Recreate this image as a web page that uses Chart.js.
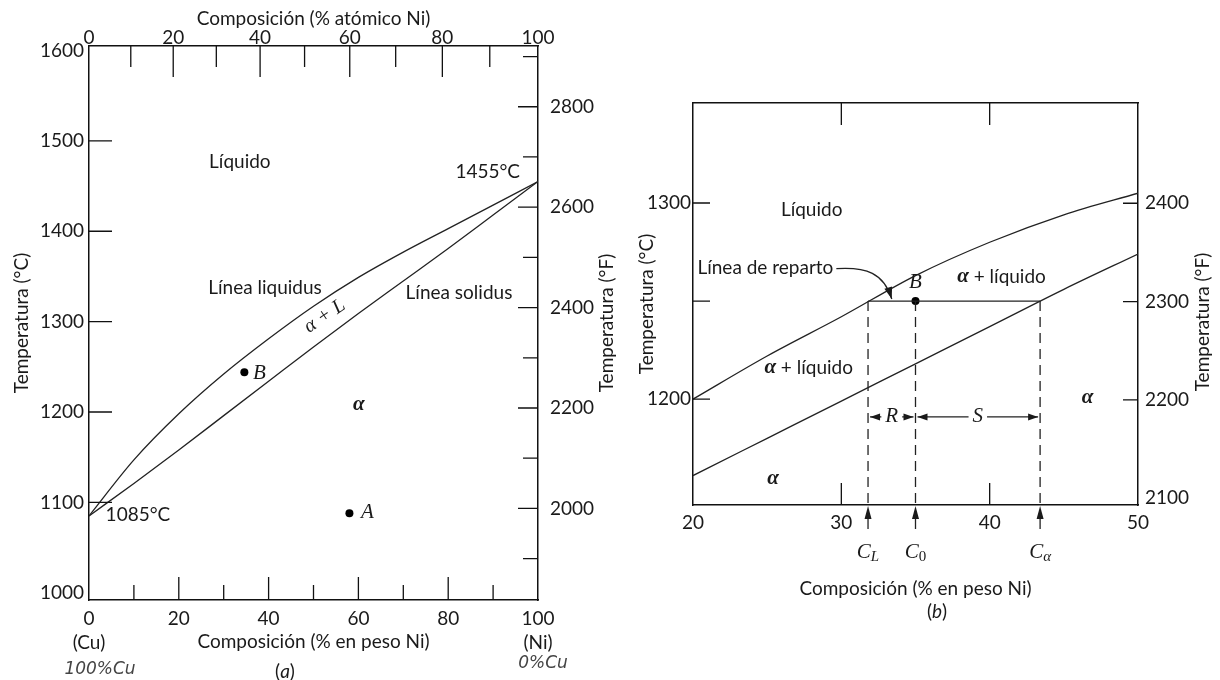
<!DOCTYPE html>
<html>
<head>
<meta charset="utf-8">
<script src="https://cdn.jsdelivr.net/npm/chart.js@4.4.1/dist/chart.umd.min.js"></script>
<style>
html,body{margin:0;padding:0;background:#fff;}
#wrap{position:relative;width:1220px;height:680px;overflow:hidden;}
#chartA{position:absolute;left:0;top:0;}
#chartB{position:absolute;left:620px;top:0;}
</style>
</head>
<body>
<div id="wrap">
<canvas id="chartA" width="620" height="680"></canvas>
<canvas id="chartB" width="600" height="680"></canvas>
</div>
<script>

/* ---------- DATA (a) : full Cu-Ni diagram ---------- */

const wtNiA = [0,10,20,30,40,50,60,70,80,90,100]
const liquidusA = [1085,1147,1198,1242,1281,1317,1349,1377,1403,1429,1455]
const solidusA = [1085,1121,1158,1196,1234,1272,1309,1345,1381,1418,1455]
const pointB_A = [34.6,1244]
const pointA_A = [58,1088]

const tempTicksA = [1000,1100,1200,1300,1400,1500,1600]
const wtTicksA = [0,10,20,30,40,50,60,70,80,90,100]
const atTicksA = [0,10,20,30,40,50,60,70,80,90,100]
const fTicksA = [1900,2000,2100,2200,2300,2400,2500,2600,2700,2800,2900]

/* ---------- DATA (b) : detail around B ---------- */

const wtNiB = [20,25,30,35,40,45,50]
const liquidusB = [1200,1222,1242,1263,1280,1294,1305]
const solidusB = [1161,1180,1199,1218,1237,1256,1274]
const C_L = 31.8
const C_0 = 35
const C_ALPHA = 43.4
const TIE_T = 1250

const wtTicksB = [20,30,40,50]
const tempTicksB = [1200,1250,1300]
const fTicksB = [2100,2200,2300,2400]

/* ---------- helpers ---------- */

const SANS = "Lato, 'Open Sans', sans-serif"
const SERIF = "'Liberation Serif', 'DejaVu Serif', serif"
const INK = "#1a1a1a"
const tickFont = {family:SANS, size:19}

Chart.defaults.color = INK
Chart.defaults.font.family = SANS

// weight % Ni for a given atomic % Ni (Ni 58.69, Cu 63.55)
function atToWt(a){
return a*58.69/(a*58.69+(100-a)*63.55)*100
}

function pts(xs,ys){
return xs.map((x,i)=>({x:x,y:ys[i]}))
}

function curve(data){
return {data:data, showLine:true, pointRadius:0, borderColor:"#222", borderWidth:1.3,
cubicInterpolationMode:"monotone"}
}

function straight(data,dash){
return {data:data, showLine:true, pointRadius:0, borderColor:"#222", borderWidth:1.3,
borderDash:dash||[]}
}

function dot(p){
return {data:[{x:p[0],y:p[1]}], pointRadius:4, pointBackgroundColor:"#000", pointBorderWidth:0, showLine:false}
}

function setTicks(values){
return s=>{ s.ticks = values.map(v=>({value:v})) }
}

const noGrid = {display:false, drawTicks:false}
const frame = {color:"#111", width:1.5}

function innerTicks(chart,axis,values,lenOf){
const s = chart.scales[axis], a = chart.chartArea, ctx = chart.ctx
ctx.save()
ctx.strokeStyle="#111"
ctx.lineWidth=1.3
ctx.beginPath()
values.forEach(v=>{
const p = s.getPixelForValue(v), L = lenOf(v)
if(s.position==="bottom"){ctx.moveTo(p,a.bottom);ctx.lineTo(p,a.bottom-L)}
else if(s.position==="top"){ctx.moveTo(p,a.top);ctx.lineTo(p,a.top+L)}
else if(s.position==="left"){ctx.moveTo(a.left,p);ctx.lineTo(a.left+L,p)}
else{ctx.moveTo(a.right,p);ctx.lineTo(a.right-L,p)}
})
ctx.stroke()
ctx.restore()
}

// draw text made of pieces with different fonts
function rich(ctx,parts,x,y,align){
let w = 0
parts.forEach(p=>{ctx.font=p[1];w+=ctx.measureText(p[0]).width})
let cx = align==="left" ? x : align==="right" ? x-w : x-w/2
ctx.textAlign="left"
ctx.textBaseline="middle"
parts.forEach(p=>{
ctx.font=p[1]
ctx.fillText(p[0],cx,y+(p[2]||0))
cx+=ctx.measureText(p[0]).width
})
return cx
}

function vTitle(ctx,str,x,y){
ctx.save()
ctx.translate(x,y)
ctx.rotate(-Math.PI/2)
ctx.font="19px "+SANS
ctx.textAlign="center"
ctx.textBaseline="middle"
ctx.fillText(str,0,0)
ctx.restore()
}

function arrowHead(ctx,x,y,ang,len,half){
ctx.beginPath()
ctx.moveTo(x,y)
ctx.lineTo(x-len*Math.cos(ang)+half*Math.sin(ang), y-len*Math.sin(ang)-half*Math.cos(ang))
ctx.lineTo(x-len*Math.cos(ang)-half*Math.sin(ang), y-len*Math.sin(ang)+half*Math.cos(ang))
ctx.closePath()
ctx.fill()
}

const SANS19 = "19px "+SANS
const ITAL = "italic 21px "+SERIF
const ALPHA = "italic bold 21px "+SERIF

/* ---------- CHART (a) ---------- */

const decorA = {
id:"decorA",
afterDraw(chart){
const ctx = chart.ctx, a = chart.chartArea
const X = v=>chart.scales.x.getPixelForValue(v)
const Y = v=>chart.scales.y.getPixelForValue(v)

innerTicks(chart,"y",tempTicksA.slice(1,-1),()=>23)
innerTicks(chart,"x",wtTicksA.slice(1,-1),v=>v%20===0?23:15)
// top ticks, lengths by atomic value
innerTicks(chart,"x2",atTicksA.slice(1,-1).filter(v=>v%20===0).map(atToWt),()=>31)
innerTicks(chart,"x2",atTicksA.slice(1,-1).filter(v=>v%20!==0).map(atToWt),()=>21)
innerTicks(chart,"y2",fTicksA,v=>v%200===0?20:15)

ctx.save()
ctx.fillStyle=INK
rich(ctx,[["Líquido",SANS19]],X(33.6),Y(1477),"center")
rich(ctx,[["1455°C",SANS19]],X(96),Y(1466),"right")
rich(ctx,[["Línea liquidus",SANS19]],X(39.2),Y(1337),"center")
rich(ctx,[["Línea solidus",SANS19]],X(82.4),Y(1332),"center")
rich(ctx,[["B",ITAL]],X(36.5),Y(1243),"left")
rich(ctx,[["α",ALPHA]],X(60.1),Y(1208),"center")
rich(ctx,[["1085°C",SANS19]],X(10.9),Y(1086),"center")
rich(ctx,[["A",ITAL]],X(60.6),Y(1089),"left")

ctx.save()
ctx.translate(X(52.5),Y(1306))
ctx.rotate(-34*Math.PI/180)
rich(ctx,[["α + L","italic 20px "+SERIF]],0,0,"center")
ctx.restore()

vTitle(ctx,"Temperatura (°F)",a.right+69,(a.top+a.bottom)/2)
rich(ctx,[["(",SANS19],["a","italic 19px "+SANS],[")",SANS19]],285,672,"center")

ctx.fillStyle="#444"
rich(ctx,[["100%Cu","italic 300 17px 'DejaVu Sans', sans-serif"]],100,670,"center")
rich(ctx,[["0%Cu","italic 300 17px 'DejaVu Sans', sans-serif"]],543,664,"center")
ctx.restore()
}
}

new Chart(document.getElementById("chartA"),{
type:"scatter",
data:{
datasets:[
curve(pts(wtNiA,liquidusA)),
curve(pts(wtNiA,solidusA)),
dot(pointB_A),
dot(pointA_A)
]
},
options:{
responsive:false,
animation:false,
events:[],
layout:{padding:0},
plugins:{legend:{display:false},tooltip:{enabled:false}},
scales:{
x:{
type:"linear",position:"bottom",min:0,max:100,
grid:noGrid,border:frame,
afterBuildTicks:setTicks(wtTicksA.filter(v=>v%20===0)),
afterFit:s=>{s.height=80},
ticks:{autoSkip:false,maxRotation:0,padding:7,font:{family:SANS,size:19,lineHeight:1.25},
callback:v=>v===0?["0","(Cu)"]:v===100?["100","(Ni)"]:String(v)},
title:{display:true,text:"Composición (% en peso Ni)",font:tickFont,padding:{top:0,bottom:27}}
},
x2:{
type:"linear",position:"top",min:0,max:100,
grid:noGrid,border:frame,
afterBuildTicks:setTicks(atTicksA.filter(v=>v%20===0).map(atToWt)),
afterFit:s=>{s.height=46},
ticks:{autoSkip:false,maxRotation:0,padding:-3,font:tickFont,
callback:(v,i)=>String(atTicksA.filter(t=>t%20===0)[i])},
title:{display:true,text:"Composición (% atómico Ni)",font:tickFont,padding:{top:7,bottom:0}}
},
y:{
type:"linear",position:"left",min:992,max:1605,
grid:noGrid,border:frame,
afterBuildTicks:setTicks(tempTicksA),
afterFit:s=>{s.width=89},
ticks:{autoSkip:false,padding:5,font:tickFont,callback:v=>String(v)},
title:{display:true,text:"Temperatura (°C)",font:tickFont,padding:{top:10,bottom:0}}
},
y2:{
type:"linear",position:"right",min:992*1.8+32,max:1605*1.8+32,
grid:noGrid,border:frame,
afterBuildTicks:setTicks(fTicksA),
afterFit:s=>{s.width=82},
ticks:{autoSkip:false,padding:12,font:tickFont,callback:v=>v%200===0?String(v):""}
}
}
},
plugins:[decorA]
})

/* ---------- CHART (b) ---------- */

const decorB = {
id:"decorB",
afterDraw(chart){
const ctx = chart.ctx, a = chart.chartArea
const X = v=>chart.scales.x.getPixelForValue(v)
const Y = v=>chart.scales.y.getPixelForValue(v)

innerTicks(chart,"y",tempTicksB,()=>17)
innerTicks(chart,"y2",fTicksB.slice(1),()=>15)
innerTicks(chart,"x",wtTicksB.slice(1,-1),()=>22)
innerTicks(chart,"x2",wtTicksB.slice(1,-1),()=>22)

ctx.save()
ctx.fillStyle=INK
ctx.strokeStyle="#222"
ctx.lineWidth=1.3

rich(ctx,[["Líquido",SANS19]],X(28),Y(1296.4),"center")
const endX = rich(ctx,[["Línea de reparto",SANS19]],X(20.3),Y(1267),"left")
rich(ctx,[["α",ALPHA],[" + líquido",SANS19]],X(40.8),Y(1262.3),"center")
rich(ctx,[["α",ALPHA],[" + líquido",SANS19]],X(27.8),Y(1216),"center")
rich(ctx,[["B",ITAL]],X(C_0),Y(1259.5),"center")
rich(ctx,[["α",ALPHA]],X(46.6),Y(1200.6),"center")
rich(ctx,[["α",ALPHA]],X(25.4),Y(1159.3),"center")

// curved pointer to the tie line
const sx = endX+3, sy = Y(1267)+1
const tx = X(33.4), ty = Y(TIE_T)-2
ctx.beginPath()
ctx.moveTo(sx,sy)
ctx.bezierCurveTo(sx+30,sy-2,tx-8,ty-26,tx,ty)
ctx.stroke()
arrowHead(ctx,tx,ty,Math.atan2(26,8),12,4)

// R and S spans
const ry = Y(1190.9)
function span(x1,x2,label){
const m = (x1+x2)/2
ctx.font=ITAL
const hw = ctx.measureText(label).width/2+4
ctx.beginPath()
ctx.moveTo(x1+2,ry);ctx.lineTo(m-hw,ry)
ctx.moveTo(m+hw,ry);ctx.lineTo(x2-2,ry)
ctx.stroke()
arrowHead(ctx,x1+2,ry,Math.PI,10,3.5)
arrowHead(ctx,x2-2,ry,0,10,3.5)
rich(ctx,[[label,ITAL]],m,ry,"center")
}
span(X(C_L),X(C_0),"R")
span(X(C_0),X(C_ALPHA),"S")

// arrows under the axis
const subs = [[C_L,"L","italic 15px "+SERIF],[C_0,"0","15px "+SERIF],[C_ALPHA,"α","italic 15px "+SERIF]]
subs.forEach(c=>{
const x = X(c[0])
ctx.beginPath()
ctx.moveTo(x,a.bottom+24);ctx.lineTo(x,a.bottom+8)
ctx.stroke()
arrowHead(ctx,x,a.bottom+1,-Math.PI/2,13,3.5)
rich(ctx,[["C",ITAL],[c[1],c[2],5]],x,a.bottom+47,"center")
})

vTitle(ctx,"Temperatura (°F)",a.right+65,322)
rich(ctx,[["(",SANS19],["b","italic 19px "+SANS],[")",SANS19]],317,612,"center")
ctx.restore()
}
}

new Chart(document.getElementById("chartB"),{
type:"scatter",
data:{
datasets:[
curve(pts(wtNiB,liquidusB)),
curve(pts(wtNiB,solidusB)),
straight([{x:C_L,y:TIE_T},{x:C_ALPHA,y:TIE_T}]),
straight([{x:C_L,y:TIE_T},{x:C_L,y:1146}],[10,6]),
straight([{x:C_0,y:TIE_T},{x:C_0,y:1146}],[10,6]),
straight([{x:C_ALPHA,y:TIE_T},{x:C_ALPHA,y:1146}],[10,6]),
dot([C_0,TIE_T])
]
},
options:{
responsive:false,
animation:false,
events:[],
layout:{padding:0},
plugins:{legend:{display:false},tooltip:{enabled:false}},
scales:{
x:{
type:"linear",position:"bottom",min:20,max:50,
grid:noGrid,border:frame,
afterBuildTicks:setTicks(wtTicksB),
afterFit:s=>{s.height=175},
ticks:{autoSkip:false,maxRotation:0,padding:6,font:tickFont,callback:v=>String(v)},
title:{display:true,text:"Composición (% en peso Ni)",font:tickFont,padding:{top:0,bottom:80}}
},
x2:{
type:"linear",position:"top",min:20,max:50,
grid:noGrid,border:frame,
ticks:{display:false},
afterFit:s=>{s.height=103}
},
y:{
type:"linear",position:"left",min:1146,max:1351,
grid:noGrid,border:frame,
afterBuildTicks:setTicks(tempTicksB.filter(v=>v%100===0)),
afterFit:s=>{s.width=73},
ticks:{autoSkip:false,padding:2,font:tickFont,callback:v=>String(v)},
title:{display:true,text:"Temperatura (°C)",font:tickFont,padding:{top:15,bottom:0}}
},
y2:{
type:"linear",position:"right",min:2093,max:2502,
grid:noGrid,border:frame,
afterBuildTicks:setTicks(fTicksB),
afterFit:s=>{s.width=82},
ticks:{autoSkip:false,padding:7,font:tickFont,callback:v=>String(v)}
}
}
},
plugins:[decorB]
})

</script>
</body>
</html>
